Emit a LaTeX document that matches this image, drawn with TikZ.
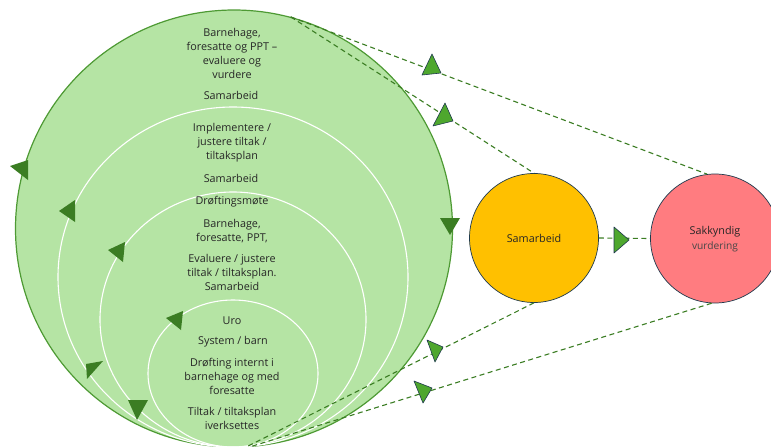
\documentclass[tikz,border=0pt]{standalone}
\usepackage{fontspec}
\setmainfont{Open Sans}

\definecolor{cyclefill}{HTML}{B5E4A4}
\definecolor{cycleline}{HTML}{4E9A34}
\definecolor{darkgreen}{HTML}{3B7D23}
\definecolor{lightgreen}{HTML}{4EA72E}
\definecolor{navyline}{HTML}{1F3A4D}
\definecolor{yellowfill}{HTML}{FFC000}
\definecolor{redfill}{HTML}{FF7C80}
\definecolor{textgray}{HTML}{262626}

\tikzset{
  stagetext/.style={align=center, text=textgray, inner sep=0pt, font=\fontsize{10.8}{14}\selectfont},
  ring/.style={draw=white, line width=1.1pt},
  link/.style={draw=darkgreen, line width=1.1pt, dash pattern=on 5pt off 3.5pt},
  bubble/.style={circle, draw=navyline, line width=0.7pt, minimum size=129pt, inner sep=0pt},
  tipdark/.style={fill=darkgreen},
  tiplight/.style={fill=lightgreen, draw=navyline, line width=0.6pt, line join=round},
}

\begin{document}
\begin{tikzpicture}[x=1pt, y=-1pt]
    \clip (0,0) rectangle (771,447);

    % Stor sirkel med hele prosessen
    \node[circle, minimum size=437pt, inner sep=0pt, fill=cyclefill, draw=cycleline, line width=1.2pt] (cycle) at (234,228.5) {};

    % Indre ringer, alle med felles bunnpunkt
    \draw[ring] (233,277) ellipse (175 and 170);
    \draw[ring] (233,319.5) ellipse (133 and 127.5);
    \draw[ring] (233,373.5) ellipse (85 and 73.5);

    % Tekst i ytterste ring
    \node[stagetext] (evaluate) at (232,53) {Barnehage,\\foresatte og PPT –\\evaluere og\\vurdere};
    \node[stagetext] (coop1) at (231,95) {Samarbeid};

    % Tekst i andre ring
    \node[stagetext] (implement) at (232,143) {Implementere /\\justere tiltak /\\tiltaksplan};
    \node[stagetext] (coop2) at (231,178) {Samarbeid};

    % Tekst i tredje ring
    \node[stagetext] (meeting) at (232,202) {Drøftingsmøte};
    \node[stagetext] (parties) at (232,231) {Barnehage,\\foresatte, PPT,};
    \node[stagetext] (adjust) at (232,272) {Evaluere / justere\\tiltak / tiltaksplan.\\Samarbeid};

    % Tekst i innerste ring
    \node[stagetext] (unrest) at (232,321) {Uro};
    \node[stagetext] (system) at (233,342) {System / barn};
    \node[stagetext] (internal) at (232,376) {Drøfting internt i\\barnehage og med\\foresatte};
    \node[stagetext] (measures) at (232,418) {Tiltak / tiltaksplan\\iverksettes};

    % De to sirklene til hoyre
    \node[bubble, fill=yellowfill] (samarbeid) at (534,238) {};
    \node[bubble, fill=redfill] (sakkyndig) at (715,238.5) {};
    \node[stagetext] (samarbeidtext) at (samarbeid) {Samarbeid};
    \node[stagetext, font=\fontsize{10.8}{15}\selectfont] (sakkyndigtext) at (715,239) {Sakkyndig\\{\color{textgray!85}\fontsize{10.2}{15}\selectfont vurdering}};

    % Stiplede forbindelser
    \draw[link] (cycle.75) -- (sakkyndig.97);
    \draw[link] (cycle.75) -- (samarbeid.north);
    \draw[link] (samarbeid.south) -- (cycle.-87);
    \draw[link] (sakkyndig.267) -- (cycle.-86);
    \draw[link] (samarbeid.east) -- (sakkyndig.west);

    % Morkegronne piler langs ringene
    \fill[tipdark] (10,166) -- (28,160) -- (28,180) -- cycle;
    \fill[tipdark] (59,211) -- (75,200) -- (75,222) -- cycle;
    \fill[tipdark] (108,250) -- (125,242) -- (123,262) -- cycle;
    \fill[tipdark] (166,318) -- (183,311) -- (181,330) -- cycle;
    \fill[tipdark] (86,364) -- (103,361) -- (87,379) -- cycle;
    \fill[tipdark] (128,400) -- (148,400) -- (137,420) -- cycle;
    \fill[tipdark] (440,218) -- (460,218) -- (450,235) -- cycle;

    % Lysegronne piler paa de stiplede linjene
    \filldraw[tiplight] (432,54) -- (422,75) -- (441,73) -- cycle;
    \filldraw[tiplight] (445,103) -- (433,126) -- (453,121) -- cycle;
    \filldraw[tiplight] (614,227) -- (614,253) -- (629,240) -- cycle;
    \filldraw[tiplight] (427,340) -- (443,347) -- (435,362) -- cycle;
    \filldraw[tiplight] (414,381) -- (432,388) -- (423,403) -- cycle;
\end{tikzpicture}
\end{document}
